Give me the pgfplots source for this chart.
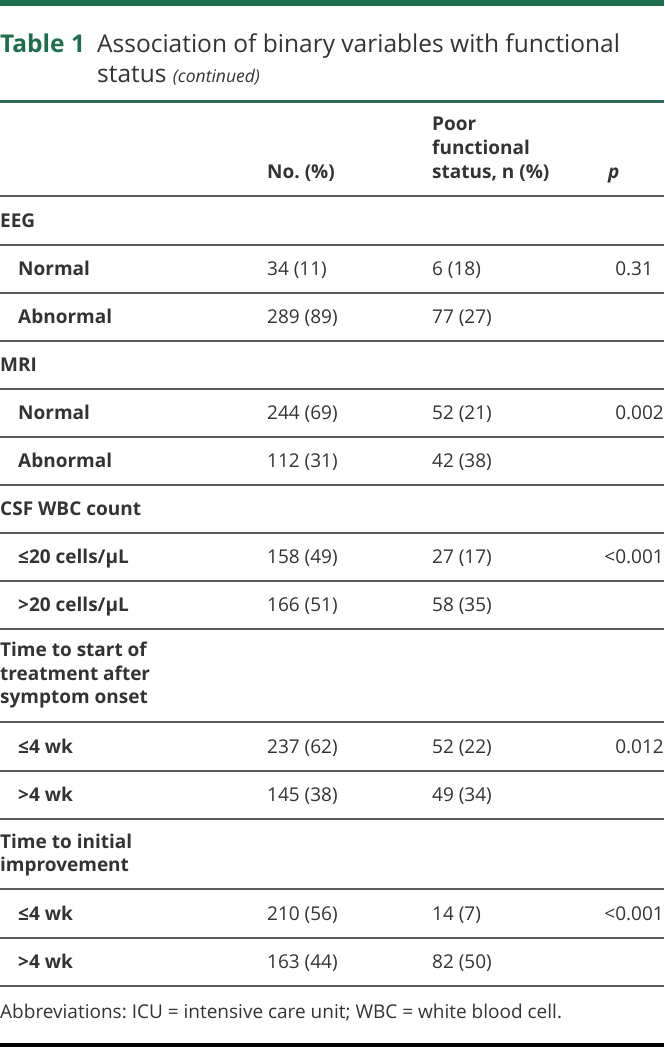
\documentclass[border=0pt]{standalone}
\usepackage{fontspec}
\setmainfont{Open Sans}
\usepackage{pgfplots}
\pgfplotsset{compat=1.18}
\definecolor{tgreen}{HTML}{1E6E4E}
\definecolor{hgreen}{HTML}{2F6A55}
\definecolor{txt}{HTML}{333333}
\definecolor{rule}{HTML}{5A5A5A}
\newcommand\bodyf{\fontsize{19bp}{24bp}\selectfont}
\frenchspacing
\begin{document}
\frenchspacing
\begin{tikzpicture}
\begin{axis}[width=664bp,height=1047bp,scale only axis,
  xmin=0,xmax=664,ymin=0,ymax=1047,y dir=reverse,hide axis,clip=false]
\coordinate (tl) at (axis cs:0,0);
\coordinate (br) at (axis cs:664,1047);
% top bar and header rule
\addplot[draw=tgreen,line width=6bp,forget plot] coordinates {(0,3) (664,3)};
\addplot[draw=hgreen,line width=3bp,forget plot] coordinates {(0,101.5) (664,101.5)};
% row rules
\foreach \yy in {196,245,293,341,389,437,485,533,581,629,722,771,819,889,938,986}{
  \edef\tmp{\noexpand\addplot[draw=rule,line width=1.7bp,forget plot] coordinates {(0,\yy) (664,\yy)};}\tmp
}
\addplot[draw=black,line width=4bp,forget plot] coordinates {(0,1045) (664,1045)};
% title
\node[anchor=base west,inner sep=0pt,text=tgreen,font=\fontsize{24.5bp}{30bp}\selectfont\bfseries] at (axis cs:0,52) {Table 1};
\node[anchor=base west,inner sep=0pt,text=txt,font=\fontsize{24.5bp}{30bp}\selectfont] at (axis cs:97,52) {Association of binary variables with functional};
\node[anchor=base west,inner sep=0pt,text=txt,font=\fontsize{24.5bp}{30bp}\selectfont] at (axis cs:97,82) {status {\fontsize{17.5bp}{20bp}\selectfont\itshape (continued)}};
% header
\begin{scope}[every node/.style={anchor=base west,inner sep=0pt,text=txt,font=\bodyf\bfseries}]
\node at (axis cs:432,130) {Poor};
\node at (axis cs:432,154) {functional};
\node at (axis cs:432,178) {status, n (\%)};
\node at (axis cs:267,178) {No. (\%)};
\node at (axis cs:608,178) {\itshape p};
% categories
\node at (axis cs:0,227) {EEG};
\node at (axis cs:0,371) {MRI};
\node at (axis cs:0,515) {CSF WBC count};
\node at (axis cs:0,656.5) {Time to start of};
\node at (axis cs:0,680) {treatment after};
\node at (axis cs:0,703.5) {symptom onset};
\node at (axis cs:0,848.5) {Time to initial};
\node at (axis cs:0,871.5) {improvement};
% subcategories
\node at (axis cs:18,275) {Normal};
\node at (axis cs:18,323) {Abnormal};
\node at (axis cs:18,419) {Normal};
\node at (axis cs:18,467) {Abnormal};
\node at (axis cs:18,563) {≤20 cells/µL};
\node at (axis cs:18,611) {>20 cells/µL};
\node at (axis cs:18,753) {≤4 wk};
\node at (axis cs:18,801) {>4 wk};
\node at (axis cs:18,920) {≤4 wk};
\node at (axis cs:18,968) {>4 wk};
\end{scope}
\begin{scope}[every node/.style={anchor=base west,inner sep=0pt,text=txt,font=\bodyf}]
\node at (axis cs:267,275) {34 (11)};   \node at (axis cs:432,275) {6 (18)};
\node at (axis cs:267,323) {289 (89)};  \node at (axis cs:432,323) {77 (27)};
\node at (axis cs:267,419) {244 (69)};  \node at (axis cs:432,419) {52 (21)};
\node at (axis cs:267,467) {112 (31)};  \node at (axis cs:432,467) {42 (38)};
\node at (axis cs:267,563) {158 (49)};  \node at (axis cs:432,563) {27 (17)};
\node at (axis cs:267,611) {166 (51)};  \node at (axis cs:432,611) {58 (35)};
\node at (axis cs:267,753) {237 (62)};  \node at (axis cs:432,753) {52 (22)};
\node at (axis cs:267,801) {145 (38)};  \node at (axis cs:432,801) {49 (34)};
\node at (axis cs:267,920) {210 (56)};  \node at (axis cs:432,920) {14 (7)};
\node at (axis cs:267,968) {163 (44)};  \node at (axis cs:432,968) {82 (50)};
\node at (axis cs:0,1018) {Abbreviations: ICU = intensive care unit; WBC = white blood cell.};
\end{scope}
\begin{scope}[every node/.style={anchor=base east,inner sep=0pt,text=txt,font=\bodyf}]
\node at (axis cs:664,275) {0.31\phantom{0}};
\node at (axis cs:664,419) {0.002};
\node at (axis cs:664,563) {<0.001};
\node at (axis cs:664,753) {0.012};
\node at (axis cs:664,920) {<0.001};
\end{scope}
\end{axis}
\pgfresetboundingbox
\useasboundingbox (tl) rectangle (br);
\end{tikzpicture}
\end{document}
